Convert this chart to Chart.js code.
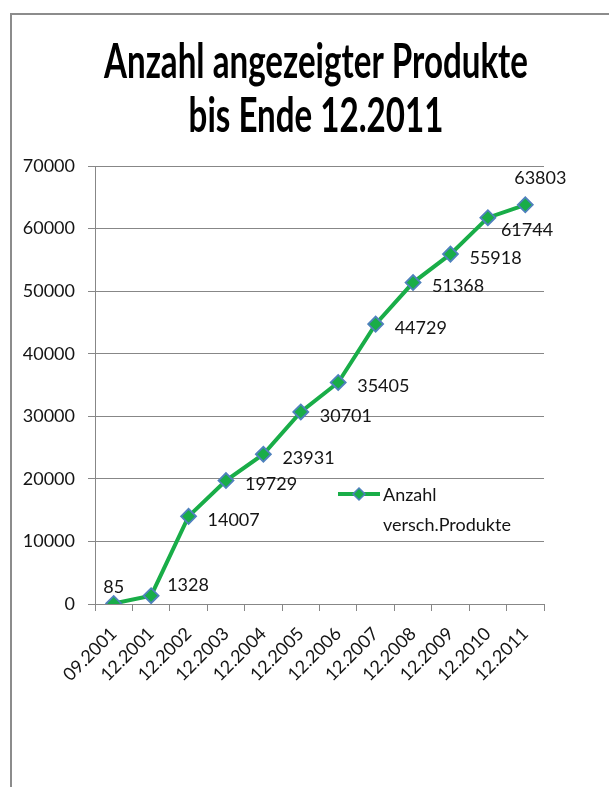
<!DOCTYPE html>
<html>
<head>
<meta charset="utf-8">
<script src="https://cdn.jsdelivr.net/npm/chart.js@4.4.1/dist/chart.umd.min.js"></script>
<style>
html,body{margin:0;padding:0;background:#fff;}
#wrap{position:absolute;left:0;top:0;width:609px;height:787px;}
</style>
</head>
<body>
<div id="wrap"><canvas id="c" width="609" height="787"></canvas></div>
<script>
const categories = ["09.2001","12.2001","12.2002","12.2003","12.2004","12.2005","12.2006","12.2007","12.2008","12.2009","12.2010","12.2011"];
const values = [85,1328,14007,19729,23931,30701,35405,44729,51368,55918,61744,63803];
const labelPlacement = ["top","rightUp","right","right","right","right","right","right","right","right","rightDown","topRight"];
const seriesName = ["Anzahl","versch.Produkte"];
const titleLines = ["Anzahl angezeigter Produkte","bis Ende 12.2011"];

const FONT = "Lato, 'Liberation Sans', sans-serif";
const GREEN = "#19ad48";
const BLUE = "#4f81bd";
const GRID = "#878787";
const TEXT = "#141414";

function placeLabel(kind, pt) {
  switch (kind) {
    case "top":       return { x: pt.x, y: pt.y - 16, align: "center" };
    case "topRight":  return { x: pt.x + 15, y: pt.y - 27, align: "center" };
    case "rightUp":   return { x: pt.x + 16, y: pt.y - 11, align: "left" };
    case "rightDown": return { x: pt.x + 13, y: pt.y + 13, align: "left" };
    default:          return { x: pt.x + 19, y: pt.y + 4, align: "left" };
  }
}

const extras = {
  id: 'extras',
  beforeDraw(chart) {
    const ctx = chart.ctx;
    ctx.save();
    // chart frame
    ctx.strokeStyle = "#8c8c8c";
    ctx.lineWidth = 2;
    ctx.beginPath();
    ctx.moveTo(11, 800);
    ctx.lineTo(11, 14);
    ctx.lineTo(620, 14);
    ctx.stroke();
    // title (tall, condensed like the original)
    ctx.fillStyle = "#000";
    ctx.font = "bold 47px " + FONT;
    ctx.textAlign = "center";
    ctx.textBaseline = "alphabetic";
    const w0 = ctx.measureText(titleLines[0]).width;
    const sx = 424 / w0;
    const cx = 316;
    const baselines = [78, 132];
    titleLines.forEach((t, i) => {
      ctx.save();
      ctx.translate(cx, baselines[i]);
      ctx.scale(sx, 1);
      ctx.fillText(t, 0, 0);
      ctx.restore();
    });
    ctx.restore();
  },
  afterDatasetsDraw(chart) {
    const ctx = chart.ctx;
    const meta = chart.getDatasetMeta(0);
    ctx.save();
    ctx.font = "18px " + FONT;
    ctx.fillStyle = TEXT;
    ctx.textBaseline = "middle";
    meta.data.forEach((pt, i) => {
      const p = placeLabel(labelPlacement[i], pt);
      ctx.textAlign = p.align;
      ctx.fillText(String(values[i]), p.x, p.y);
    });
    // legend inside plot
    const a = chart.chartArea;
    const lx = a.left + 243, ly = a.top + 328;
    ctx.strokeStyle = GREEN; ctx.lineWidth = 4;
    ctx.beginPath(); ctx.moveTo(lx, ly); ctx.lineTo(lx + 42, ly); ctx.stroke();
    const mx = lx + 21, r = 6;
    ctx.beginPath();
    ctx.moveTo(mx, ly - r); ctx.lineTo(mx + r, ly); ctx.lineTo(mx, ly + r); ctx.lineTo(mx - r, ly); ctx.closePath();
    ctx.fillStyle = GREEN; ctx.fill();
    ctx.strokeStyle = BLUE; ctx.lineWidth = 1.5; ctx.stroke();
    ctx.fillStyle = TEXT;
    ctx.font = "18px " + FONT;
    ctx.textAlign = "left"; ctx.textBaseline = "middle";
    ctx.fillText(seriesName[0], lx + 45, ly + 1);
    ctx.fillText(seriesName[1], lx + 45, ly + 31);
    ctx.restore();
  }
};

new Chart(document.getElementById('c'), {
  type: 'line',
  data: {
    labels: categories,
    datasets: [{
      label: seriesName.join(" "),
      data: values,
      borderColor: GREEN,
      borderWidth: 4,
      tension: 0,
      pointStyle: 'rectRot',
      pointRadius: 7.5,
      pointHoverRadius: 7.5,
      pointBackgroundColor: GREEN,
      pointBorderColor: BLUE,
      pointBorderWidth: 1.8
    }]
  },
  options: {
    responsive: false,
    animation: false,
    events: [],
    layout: { padding: { left: 0, right: 65, top: 166, bottom: 0 } },
    plugins: {
      legend: { display: false },
      tooltip: { enabled: false },
      title: { display: false }
    },
    scales: {
      x: {
        offset: true,
        grid: { offset: true, drawOnChartArea: false, drawTicks: true, tickLength: 7, color: GRID },
        border: { color: GRID, width: 1 },
        ticks: { color: TEXT, font: { family: FONT, size: 18 }, maxRotation: 45, minRotation: 45, autoSkip: false, padding: 12 },
        afterFit(s) { s.height = 183; }
      },
      y: {
        min: 0, max: 70000,
        grid: { color: GRID, tickLength: 7 },
        border: { color: GRID, width: 1 },
        ticks: { stepSize: 10000, color: TEXT, font: { family: FONT, size: 18 }, padding: 13, callback: v => String(v) },
        afterFit(s) { s.width = 95; }
      }
    }
  },
  plugins: [extras]
});
</script>
</body>
</html>
